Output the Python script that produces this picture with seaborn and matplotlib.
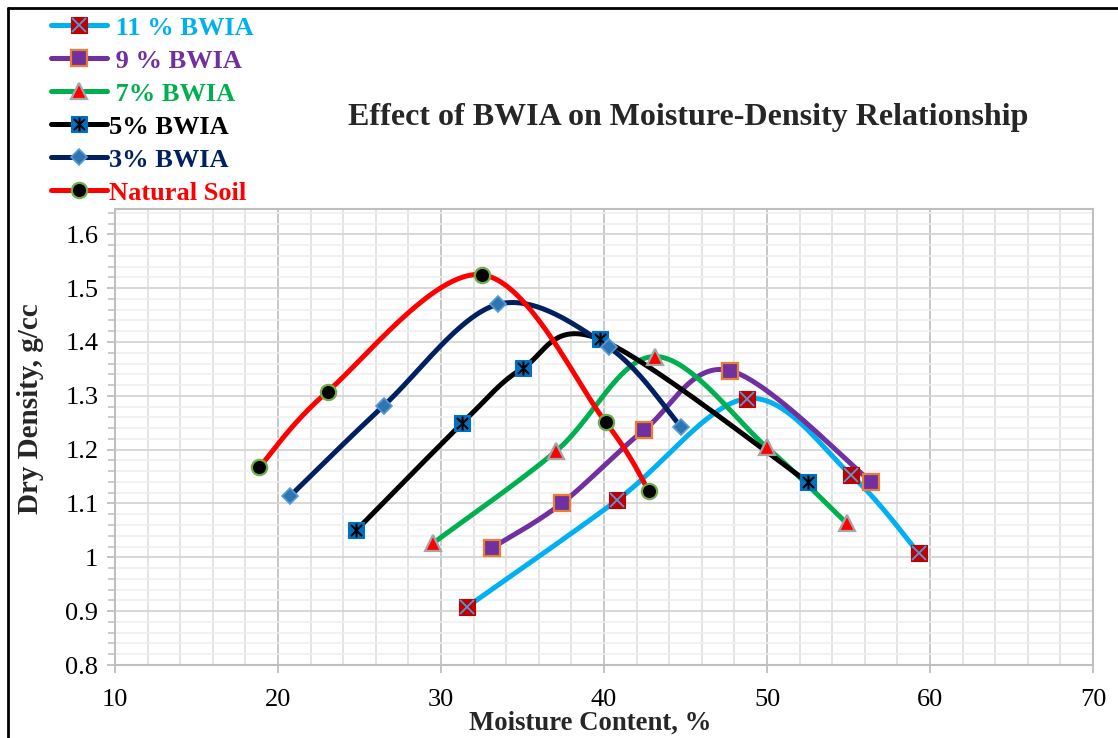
import numpy as np
import matplotlib
matplotlib.use("Agg")
import matplotlib.pyplot as plt
from matplotlib.lines import Line2D
from matplotlib.path import Path
from matplotlib.legend_handler import HandlerTuple
from matplotlib.ticker import MultipleLocator
import seaborn as sns

# ---------------- data ----------------
series_names = [" 11 % BWIA", " 9 % BWIA", " 7% BWIA", "5% BWIA", "3% BWIA", "Natural Soil"]

mc_11 = [31.6, 40.8, 48.8, 55.15, 59.3]
dd_11 = [0.908, 1.106, 1.295, 1.153, 1.008]

mc_9 = [33.1, 37.4, 42.45, 47.7, 56.4]
dd_9 = [1.017, 1.100, 1.236, 1.347, 1.140]

mc_7 = [29.5, 37.05, 43.1, 50.0, 54.9]
dd_7 = [1.026, 1.197, 1.373, 1.204, 1.063]

mc_5 = [24.8, 31.3, 35.0, 39.75, 52.5]
dd_5 = [1.050, 1.249, 1.351, 1.405, 1.140]

mc_3 = [20.75, 26.5, 33.5, 40.3, 44.7]
dd_3 = [1.114, 1.282, 1.470, 1.390, 1.243]

mc_nat = [18.85, 23.05, 32.5, 40.1, 42.75]
dd_nat = [1.167, 1.308, 1.525, 1.251, 1.123]

x_ticks = [10, 20, 30, 40, 50, 60, 70]
y_ticks = [0.8, 0.9, 1.0, 1.1, 1.2, 1.3, 1.4, 1.5, 1.6]
y_tick_labels = ["0.8", "0.9", "1", "1.1", "1.2", "1.3", "1.4", "1.5", "1.6"]

title_text = "Effect of BWIA on Moisture-Density Relationship"
x_label = "Moisture Content, %"
y_label = "Dry Density, g/cc"

# ---------------- style ----------------
sns.set_theme(style="white")
plt.rcParams["font.family"] = ["Liberation Serif", "DejaVu Serif"]

line_colors = ["#00B0F0", "#7030A0", "#00B050", "#000000", "#002060", "#FF0000"]

# custom "star" marker: vertical bar + X
star_path = Path(
    [(0, -1), (0, 1), (-0.8, -0.8), (0.8, 0.8), (-0.8, 0.8), (0.8, -0.8)],
    [Path.MOVETO, Path.LINETO, Path.MOVETO, Path.LINETO, Path.MOVETO, Path.LINETO],
)

# marker layers for each series: (marker, size_pt, face, edge, edgewidth)
marker_layers = [
    [("s", 11, "#C00000", "#C00000", 0.8), ("x", 10, "none", "#4F9BE0", 1.3)],
    [("s", 11, "#7030A0", "#ED7D31", 1.6)],
    [("^", 11, "#FF0000", "#A5A5A5", 1.6)],
    [("s", 11, "#0070C0", "#0070C0", 0.8), (star_path, 10, "none", "#000000", 1.5)],
    [("D", 8.5, "#2E75B6", "#5B9BD5", 1.2)],
    [("o", 11, "#000000", "#70AD47", 1.6)],
]

all_x = [mc_11, mc_9, mc_7, mc_5, mc_3, mc_nat]
all_y = [dd_11, dd_9, dd_7, dd_5, dd_3, dd_nat]


def smooth_curve(xs, ys, n=40):
    """Excel-style smoothed line (Catmull-Rom Bezier through the points)."""
    P = np.column_stack([xs, ys]).astype(float)
    m = len(P)
    out = []
    for i in range(m - 1):
        p0 = P[max(i - 1, 0)]
        p1 = P[i]
        p2 = P[i + 1]
        p3 = P[min(i + 2, m - 1)]
        c1 = p1 + (p2 - p0) / 6.0
        c2 = p2 - (p3 - p1) / 6.0
        t = np.linspace(0, 1, n)[:, None]
        seg = ((1 - t) ** 3) * p1 + 3 * ((1 - t) ** 2) * t * c1 + 3 * (1 - t) * t ** 2 * c2 + t ** 3 * p2
        out.append(seg if i == 0 else seg[1:])
    out = np.vstack(out)
    return out[:, 0], out[:, 1]


fig = plt.figure(figsize=(11.18, 7.38), dpi=100)
ax = fig.add_axes([115 / 1118, 1 - 665 / 738, (1093 - 115) / 1118, (665 - 209) / 738])

# smoothed lines first
for xs, ys, col in zip(all_x, all_y, line_colors):
    sx, sy = smooth_curve(xs, ys)
    sns.lineplot(x=sx, y=sy, sort=False, estimator=None, color=col, linewidth=3.6, ax=ax,
                 solid_capstyle="round", zorder=3)

# then markers on top
for xs, ys, layers in zip(all_x, all_y, marker_layers):
    for mk, ms, fc, ec, ew in layers:
        ax.plot(xs, ys, linestyle="none", marker=mk, markersize=ms, markerfacecolor=fc,
                markeredgecolor=ec, markeredgewidth=ew, zorder=5)

ax.set_xlim(10, 70)
ax.set_ylim(0.8, 1.647)
ax.set_xticks(x_ticks)
ax.set_yticks(y_ticks)
ax.set_yticklabels(y_tick_labels)
ax.xaxis.set_minor_locator(MultipleLocator(2))
ax.yaxis.set_minor_locator(MultipleLocator(0.02))

ax.grid(which="major", axis="x", color="#C4C4C4", linewidth=1.3, zorder=0)
ax.grid(which="minor", axis="x", color="#DCDCDC", linewidth=1.1, zorder=0)
ax.grid(which="major", axis="y", color="#D6D6D6", linewidth=1.3, zorder=0)
ax.grid(which="minor", axis="y", color="#EFEFEF", linewidth=1.1, zorder=0)
ax.set_axisbelow(True)

for sp in ax.spines.values():
    sp.set_color("#BFBFBF")
    sp.set_linewidth(1.5)
    sp.set_visible(True)

ax.tick_params(axis="both", which="major", labelsize=19, colors="#BFBFBF", labelcolor="black",
               direction="out", length=6, width=1.3)
ax.tick_params(axis="y", which="minor", direction="out", length=5, width=1.1, colors="#BFBFBF", left=True)
ax.tick_params(axis="x", which="minor", length=0)
ax.tick_params(axis="x", which="major", pad=11, bottom=True)
ax.tick_params(axis="y", which="major", pad=6, left=True)

ax.set_xlabel(x_label, fontsize=19.3, fontweight="bold", va="center")
ax.xaxis.set_label_coords((590 - 115) / 978, (665 - 723) / 456)
ax.set_ylabel(y_label, fontsize=21, fontweight="bold", va="center")
ax.yaxis.set_label_coords((31 - 115) / 978, (665 - 409) / 456)

fig.text(688 / 1118, 1 - 118 / 738, title_text, ha="center", va="center",
         fontsize=23, fontweight="bold")

# legend
handles = []
for col, layers in zip(line_colors, marker_layers):
    parts = [Line2D([], [], color=col, linewidth=3.6, solid_capstyle="round")]
    for mk, ms, fc, ec, ew in layers:
        parts.append(Line2D([], [], linestyle="none", marker=mk, markersize=ms,
                            markerfacecolor=fc, markeredgecolor=ec, markeredgewidth=ew))
    handles.append(tuple(parts))

leg = fig.legend(handles, series_names, loc="upper left",
                 bbox_to_anchor=(38 / 1118, 1 - 3 / 738),
                 handler_map={tuple: HandlerTuple(ndivide=1, pad=0)},
                 frameon=False, prop={"size": 19, "weight": "bold"},
                 handlelength=2.1, handletextpad=0.1, labelspacing=0.36, borderpad=0)
for txt, col in zip(leg.get_texts(), line_colors):
    txt.set_color(col)

# outer figure frame (left & top edges visible)
fig.add_artist(Line2D([8 / 1118, 8 / 1118], [0, 1 - 8 / 738], color="black", linewidth=2,
                      transform=fig.transFigure))
fig.add_artist(Line2D([8 / 1118, 1], [1 - 8 / 738, 1 - 8 / 738], color="black", linewidth=2,
                      transform=fig.transFigure))

fig.savefig("out.png", dpi=100, facecolor="white")
